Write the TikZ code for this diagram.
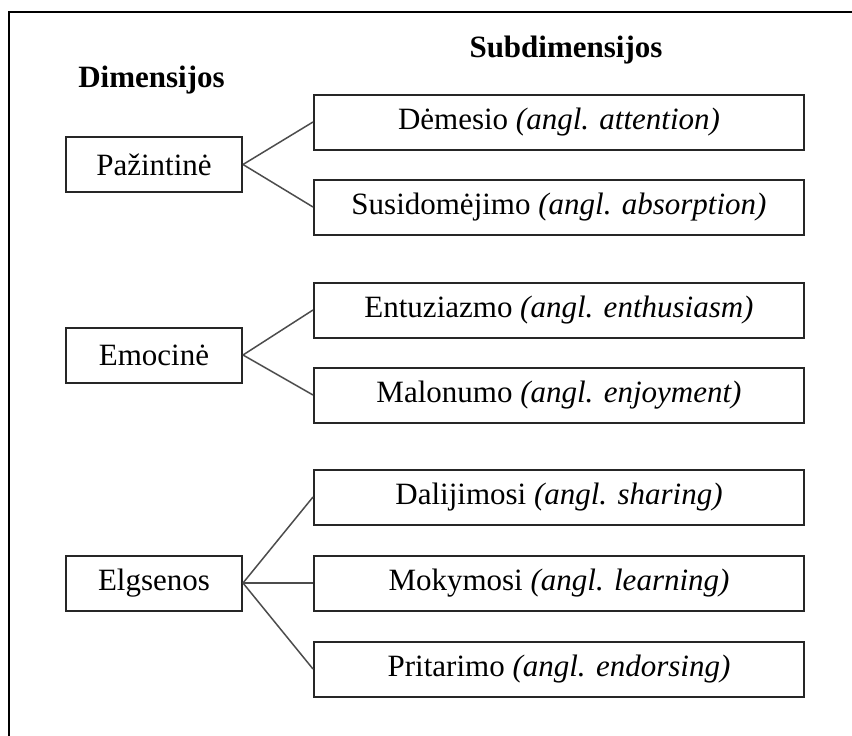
\documentclass[tikz,border=0pt]{standalone}
\usepackage{fontspec}
\setmainfont{Liberation Serif}
\begin{document}
\begin{tikzpicture}[x=1pt,y=-1pt,
  txt/.style={font=\fontsize{31}{36}\selectfont},
  dimbox/.style={txt, draw=black!85, line width=2pt, minimum width=176pt,
    minimum height=55pt, inner sep=0pt},
  subbox/.style={txt, draw=black!85, line width=2pt, minimum width=490pt,
    minimum height=55pt, inner sep=0pt},
  heading/.style={font=\bfseries\fontsize{31}{36}\selectfont, anchor=base},
  link/.style={draw=black!70, line width=1.5pt},
  frame/.style={draw=black, line width=2.5pt}]
\useasboundingbox (0,0) rectangle (852,736);

% open frame: left and top edges only
\coordinate (fb) at (9,736);
\coordinate (fc) at (9,12);
\coordinate (fr) at (852,12);
\draw[frame] (fb) -- (fc) -- (fr);

% column headings
\node[heading] (h1) at (151.5,87) {Dimensijos};
\node[heading] (h2) at (566,57) {Subdimensijos};

% dimensions
\node[dimbox] (p) at (154,164.5) {Pažintinė};
\node[dimbox] (e) at (154,355) {Emocinė};
\node[dimbox] (g) at (154,583) {Elgsenos};

% subdimensions
\node[subbox] (s1) at (559,122) {Dėmesio \textit{(angl. attention)}};
\node[subbox] (s2) at (559,207) {Susidomėjimo \textit{(angl. absorption)}};
\node[subbox] (s3) at (559,310) {Entuziazmo \textit{(angl. enthusiasm)}};
\node[subbox] (s4) at (559,395) {Malonumo \textit{(angl. enjoyment)}};
\node[subbox] (s5) at (559,497) {Dalijimosi \textit{(angl. sharing)}};
\node[subbox] (s6) at (559,583) {Mokymosi \textit{(angl. learning)}};
\node[subbox] (s7) at (559,669) {Pritarimo \textit{(angl. endorsing)}};

% connectors
\draw[link] (p.east) -- (s1.west);
\draw[link] (p.east) -- (s2.west);
\draw[link] (e.east) -- (s3.west);
\draw[link] (e.east) -- (s4.west);
\draw[link] (g.east) -- (s5.west);
\draw[link] (g.east) -- (s6.west);
\draw[link] (g.east) -- (s7.west);
\end{tikzpicture}
\end{document}
